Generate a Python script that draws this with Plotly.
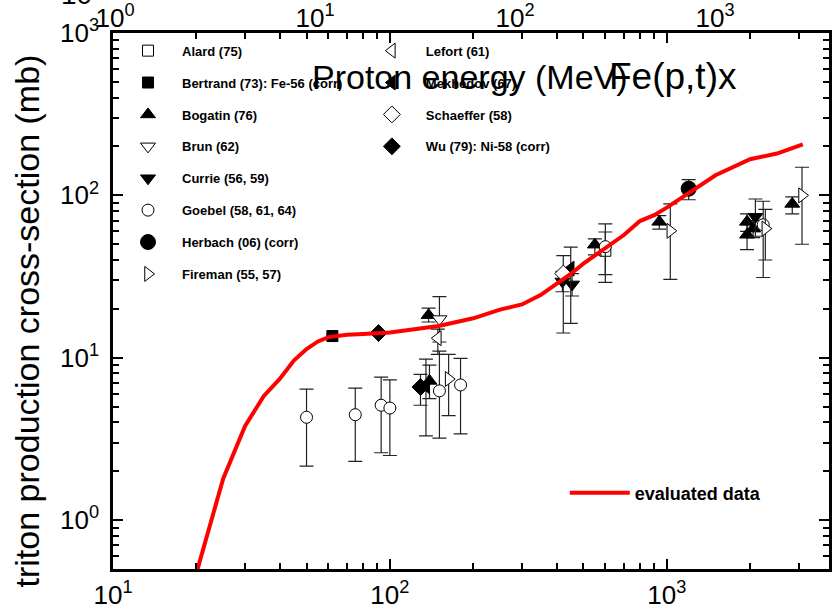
import plotly.graph_objects as go

# ---- evaluated excitation function ----
E_eval = [20, 25, 30, 35, 40, 45, 50, 55, 60, 70, 80, 100, 150, 200, 250, 300, 350,
          400, 450, 500, 600, 700, 800, 900, 1000, 1200, 1500, 2000, 2500, 3100]
xs_eval = [0.47, 1.8, 3.8, 5.8, 7.4, 9.6, 11.3, 12.6, 13.4, 13.85, 14.0, 14.3, 15.7,
           17.5, 19.8, 21.3, 24.3, 28.5, 32.8, 38.0, 47.0, 57.0, 69.5, 75.5, 84.0,
           104, 133, 167, 181, 206]

# ---- experimental data: energy (MeV), cross-section (mb), upper / lower error limits ----
alard_E, alard_y = [600], [45.6]
alard_hi, alard_lo = [59.5], [32.5]

bertrand_E, bertrand_y = [62], [13.6]

bogatin_E = [138, 139, 550, 940, 1950, 1950, 2050, 2840]
bogatin_y = [18.3, 7.2, 49.7, 68.7, 68.7, 57.2, 62.4, 88.6]
bogatin_hi = [20.2, 9.0, 54, 75, 77, 66, 70, 98]
bogatin_lo = [16.6, 5.6, 43, 62, 60, 46.3, 55, 77]

brun_E, brun_y = [151], [17.3]
brun_hi, brun_lo = [23.8], [12.5]

currie_E, currie_y = [420, 455, 2090], [29.5, 28.3, 73.8]
currie_hi, currie_lo = [34, 33, 95], [25.5, 24, 56]

goebel_E = [50, 75, 93, 100, 151, 180, 600, 2230]
goebel_y = [4.3, 4.46, 5.1, 4.9, 6.25, 6.8, 48.3, 65.9]
goebel_hi = [6.4, 6.5, 7.6, 7.3, 11.0, 9.9, 66.8, 92]
goebel_lo = [2.15, 2.3, 2.6, 2.5, 3.2, 3.4, 29.1, 31.2]

herbach_E, herbach_y = [1200], [110]
herbach_hi, herbach_lo = [125], [94]

fireman_E, fireman_y = [163, 1030, 2270, 3080], [7.4, 60.5, 62.4, 100]
fireman_hi, fireman_lo = [10.5, 88.6, 82, 149], [4.4, 30.4, 40, 50]

lefort_E, lefort_y = [149], [13.2]
lefort_hi, lefort_lo = [15.0], [10.5]

mekhedov_E, mekhedov_y = [135, 450], [6.7, 35.4]
mekhedov_hi, mekhedov_lo = [9.8, 48], [3.3, 16.3]

schaeffer_E, schaeffer_y = [423], [33.0]
schaeffer_hi, schaeffer_lo = [42.5], [14.2]

wu_E, wu_y = [91, 129], [14.2, 6.6]
wu_hi, wu_lo = [None, 7.9], [None, 5.1]

# ---- tick labels ----
bottom_vals = [10, 100, 1000]
bottom_text = ["10<sup>1</sup>", "10<sup>2</sup>", "10<sup>3</sup>"]
top_vals = [1, 10, 100, 1000]
top_text = ["10<sup>0</sup>", "10<sup>1</sup>", "10<sup>2</sup>", "10<sup>3</sup>"]
left_vals = [1, 10, 100, 1000]
left_text = ["10<sup>0</sup>", "10<sup>1</sup>", "10<sup>2</sup>", "10<sup>3</sup>"]

FONT = "Liberation Sans, Arial, sans-serif"


def errs(y, hi, lo):
    plus = [None if h is None else h - v for v, h in zip(y, hi)]
    minus = [None if l is None else v - l for v, l in zip(y, lo)]
    return dict(type="data", symmetric=False, array=plus, arrayminus=minus,
                color="#222222", thickness=1.2, width=7)


fig = go.Figure()

series = [
    # name, E, y, hi, lo, symbol, filled, size, legend
    ("Alard (75)", alard_E, alard_y, alard_hi, alard_lo, "square", False, 11, "legend"),
    ("Bertrand (73): Fe-56 (corr)", bertrand_E, bertrand_y, None, None, "square", True, 11, "legend"),
    ("Bogatin (76)", bogatin_E, bogatin_y, bogatin_hi, bogatin_lo, "triangle-up", True, 13, "legend"),
    ("Brun (62)", brun_E, brun_y, brun_hi, brun_lo, "triangle-down", False, 13, "legend"),
    ("Currie (56, 59)", currie_E, currie_y, currie_hi, currie_lo, "triangle-down", True, 13, "legend"),
    ("Goebel (58, 61, 64)", goebel_E, goebel_y, goebel_hi, goebel_lo, "circle", False, 12, "legend"),
    ("Herbach (06) (corr)", herbach_E, herbach_y, herbach_hi, herbach_lo, "circle", True, 15, "legend"),
    ("Fireman (55, 57)", fireman_E, fireman_y, fireman_hi, fireman_lo, "triangle-right", False, 13, "legend"),
    ("Lefort (61)", lefort_E, lefort_y, lefort_hi, lefort_lo, "triangle-left", False, 13, "legend2"),
    ("Mekhedov (67)", mekhedov_E, mekhedov_y, mekhedov_hi, mekhedov_lo, "triangle-left", True, 13, "legend2"),
    ("Schaeffer (58)", schaeffer_E, schaeffer_y, schaeffer_hi, schaeffer_lo, "diamond", False, 13, "legend2"),
    ("Wu (79): Ni-58 (corr)", wu_E, wu_y, wu_hi, wu_lo, "diamond", True, 13, "legend2"),
]

for i, (name, E, y, hi, lo, sym, filled, size, leg) in enumerate(series):
    fig.add_trace(go.Scatter(
        x=E, y=y, mode="markers", name=name, legend=leg, legendgroup=f"g{i}",
        marker=dict(symbol=sym, size=size, color="black" if filled else "white",
                    line=dict(color="black", width=1)),
        error_y=errs(y, hi, lo) if hi is not None else None,
    ))

fig.add_trace(go.Scatter(
    x=E_eval, y=xs_eval, mode="lines", name="evaluated data", legend="legend3",
    line=dict(color="#ff0000", width=4),
))

# invisible trace so the upper energy scale is drawn
fig.add_trace(go.Scatter(x=[1], y=[1], xaxis="x2", mode="markers",
                         marker=dict(opacity=0), showlegend=False, hoverinfo="skip"))

axis_common = dict(type="log", showgrid=False, zeroline=False, showline=True,
                   linecolor="black", linewidth=2.5, ticks="inside", ticklen=10,
                   tickwidth=2, tickcolor="black", mirror="ticks",
                   tickfont=dict(family=FONT, size=26, color="black"),
                   minor=dict(ticks="inside", ticklen=6, tickwidth=1.6,
                              tickcolor="black", dtick="D1", showgrid=False))

leg_font = dict(family=FONT, size=13, color="black", weight="bold")

fig.update_layout(
    width=832, height=612,
    margin=dict(l=113, r=0, t=32, b=43),
    paper_bgcolor="white", plot_bgcolor="white",
    xaxis=dict(axis_common, range=[1, 3.586], tickmode="array",
               tickvals=bottom_vals, ticktext=bottom_text, ticklabelstandoff=1),
    xaxis2=dict(type="log", overlaying="x", side="top", range=[-0.01, 3.57],
                showgrid=False, zeroline=False, showline=False, ticks="",
                tickmode="array", tickvals=top_vals, ticktext=top_text,
                tickfont=dict(family=FONT, size=26, color="black")),
    yaxis=dict(axis_common, range=[-0.30103, 3], tickmode="array",
               tickvals=left_vals, ticktext=left_text, ticklabelstandoff=6),
    showlegend=True,
    legend=dict(x=0.0014, y=0.995, xanchor="left", yanchor="top", itemwidth=58,
                bgcolor="rgba(0,0,0,0)", borderwidth=0, tracegroupgap=12,
                font=leg_font),
    legend2=dict(x=0.342, y=0.995, xanchor="left", yanchor="top", itemwidth=58,
                 bgcolor="rgba(0,0,0,0)", borderwidth=0, tracegroupgap=12,
                 font=leg_font),
    legend3=dict(x=0.631, y=0.1415, xanchor="left", yanchor="middle",
                 bgcolor="rgba(0,0,0,0)", borderwidth=0, itemwidth=60,
                 font=dict(family=FONT, size=18, color="black", weight="bold")),
    annotations=[
        dict(text="triton production cross-section (mb)", xref="paper", yref="paper",
             x=-0.12, y=0.462, textangle=-90, showarrow=False,
             xanchor="center", yanchor="middle",
             font=dict(family=FONT, size=34, color="black")),
        dict(text="Proton energy (MeV)", xref="paper", yref="paper", x=0.499, y=0.918,
             showarrow=False, xanchor="center", yanchor="middle",
             font=dict(family=FONT, size=34, color="black")),
        dict(text="Fe(p,t)x", xref="paper", yref="paper", x=0.782, y=0.918,
             showarrow=False, xanchor="center", yanchor="middle",
             font=dict(family=FONT, size=37, color="black")),
        dict(text="10", xref="paper", yref="paper", x=-0.0515, y=1.039,
             showarrow=False, xanchor="center", yanchor="bottom",
             font=dict(family=FONT, size=28, color="black")),
    ],
)

fig.write_html("out.html")
